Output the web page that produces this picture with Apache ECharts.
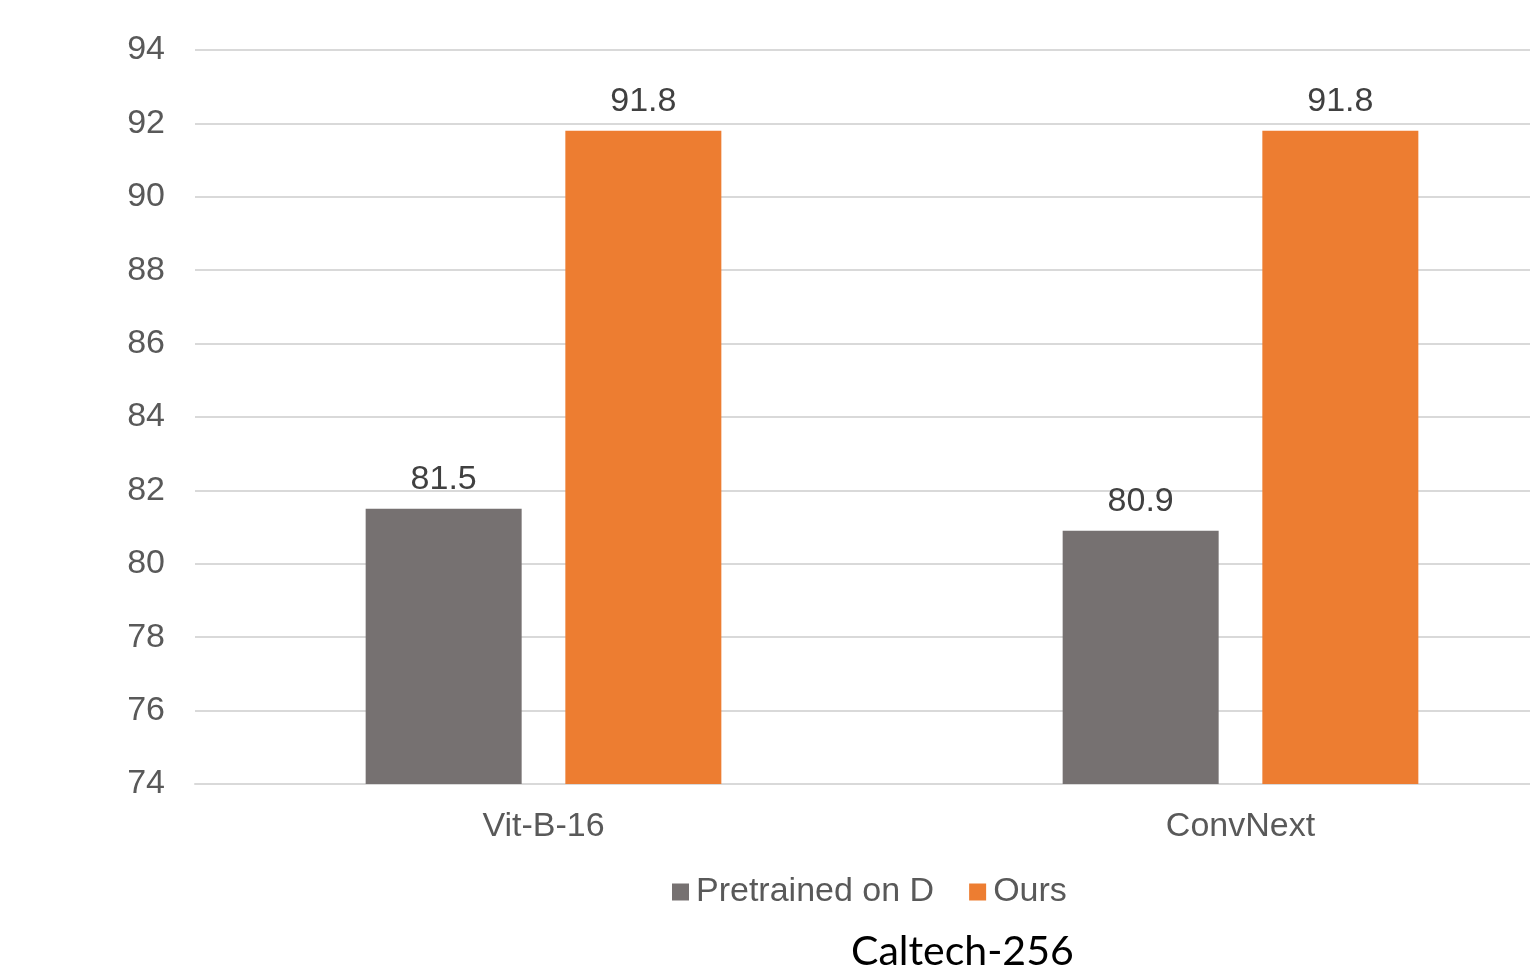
<!DOCTYPE html>
<html>
<head>
<meta charset="utf-8">
<script src="https://cdn.jsdelivr.net/npm/echarts@6/dist/echarts.min.js"></script>
<style>
html,body{margin:0;padding:0;background:#fff;overflow:hidden;width:1530px;height:973px;}
#chart{width:1590px;height:973px;}
</style>
</head>
<body>
<div id="chart"></div>
<script>
const categories = ['Vit-B-16', 'ConvNext'];
const seriesNames = ['Pretrained on D', 'Ours'];
const pretrainedValues = [81.5, 80.9];
const oursValues = [91.8, 91.8];
const yTicks = [74, 76, 78, 80, 82, 84, 86, 88, 90, 92, 94];
const titleText = 'Caltech-256';

const chart = echarts.init(document.getElementById('chart'));
const labelStyle = {
  show: true, position: 'top', distance: 12,
  fontFamily: 'Liberation Sans, Arial, sans-serif', fontSize: 34, color: '#404040'
};
chart.setOption({
  animation: false,
  backgroundColor: '#ffffff',
  title: {
    text: titleText, left: 846, top: 926,
    textStyle: {fontFamily: 'Lato, Carlito, sans-serif', fontSize: 41, fontWeight: 'normal', color: '#000000'}
  },
  legend: {
    data: seriesNames, left: 667, top: 870,
    itemWidth: 17, itemHeight: 17, itemGap: 35, icon: 'rect',
    textStyle: {fontFamily: 'Liberation Sans, Arial, sans-serif', fontSize: 34, color: '#595959', padding: [0,0,0,2]}
  },
  grid: {left: 195, top: 50, width: 1394, height: 734, containLabel: false},
  xAxis: {
    type: 'category', data: categories,
    axisLine: {lineStyle: {color: '#d9d9d9', width: 2}},
    axisTick: {show: false},
    axisLabel: {margin: 26, fontFamily: 'Liberation Sans, Arial, sans-serif', fontSize: 34, color: '#595959'}
  },
  yAxis: {
    type: 'value', min: yTicks[0], max: yTicks[yTicks.length-1], interval: 2,
    axisLine: {show: false}, axisTick: {show: false},
    splitLine: {lineStyle: {color: '#d9d9d9', width: 2}},
    axisLabel: {margin: 30, fontFamily: 'Liberation Sans, Arial, sans-serif', fontSize: 34, color: '#595959'}
  },
  series: [
    {name: seriesNames[0], type: 'bar', data: pretrainedValues, barWidth: 156, barGap: '28%',
     itemStyle: {color: '#767171'}, label: labelStyle},
    {name: seriesNames[1], type: 'bar', data: oursValues, barWidth: 156, barGap: '28%',
     itemStyle: {color: '#ED7D31'}, label: labelStyle}
  ]
});
</script>
</body>
</html>
